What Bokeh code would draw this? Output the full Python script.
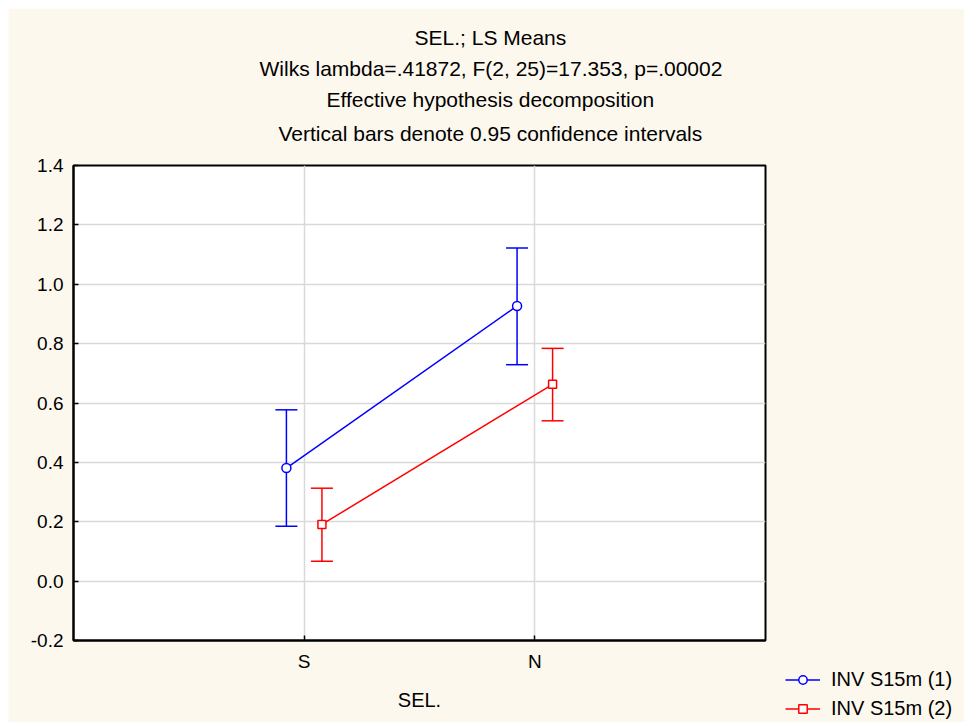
from bokeh.plotting import figure
from bokeh.models import (Range1d, FixedTicker, PrintfTickFormatter, Whisker, TeeHead,
                          ColumnDataSource, Legend, LegendItem, Title)
from bokeh.embed import file_html
from bokeh.resources import INLINE

# ---- data ----
categories = ["S", "N"]
series_names = ["INV S15m (1)", "INV S15m (2)"]
means_1 = [0.381, 0.927]
lower_1 = [0.185, 0.729]
upper_1 = [0.577, 1.122]
means_2 = [0.191, 0.663]
lower_2 = [0.067, 0.540]
upper_2 = [0.313, 0.784]
y_ticks = [-0.2, 0.0, 0.2, 0.4, 0.6, 0.8, 1.0, 1.2, 1.4]
title_lines = [
    "SEL.; LS Means",
    "Wilks lambda=.41872, F(2, 25)=17.353, p=.00002",
    "Effective hypothesis decomposition",
    "Vertical bars denote 0.95 confidence intervals",
]
x_label = "SEL."

FONT = "Liberation Sans"
BG = "#FDF8EE"
TFS = "21px"
# horizontal offsets (px from frame left) so the title lines centre on the whole figure
title_offsets = [341, 186, 253, 205]

p = figure(frame_width=692, frame_height=475, output_backend="svg", toolbar_location=None,
           x_range=Range1d(0, 3), y_range=Range1d(-0.2, 1.4),
           min_border_left=65, min_border_right=199, min_border_top=157,
           min_border_bottom=82, title=title_lines[0])
p.margin = (8, 0, 0, 8)
p.background_fill_color = "white"
p.border_fill_color = BG
p.outline_line_color = "black"
p.outline_line_width = 2


def style_title(t, off, standoff):
    t.align = "left"
    t.offset = off
    t.text_font = FONT
    t.text_font_size = TFS
    t.text_font_style = "normal"
    t.text_color = "black"
    t.standoff = standoff


style_title(p.title, title_offsets[0], 6)
# closest to the frame first; the trailing newline keeps a gap above the frame
t4 = Title(text=title_lines[3] + "\n", text_line_height=0.65)
style_title(t4, title_offsets[3], 12)
p.add_layout(t4, "above")
for k in (2, 1):
    t = Title(text=title_lines[k])
    style_title(t, title_offsets[k], 6)
    p.add_layout(t, "above")

# axes
pos = {c: i + 1 for i, c in enumerate(categories)}
p.xaxis.ticker = FixedTicker(ticks=list(pos.values()))
p.xaxis.major_label_overrides = {v: k for k, v in pos.items()}
p.yaxis.ticker = FixedTicker(ticks=y_ticks)
p.yaxis.formatter = PrintfTickFormatter(format="%.1f")
for ax in (p.xaxis[0], p.yaxis[0]):
    ax.major_tick_in = 5
    ax.major_tick_out = 0
    ax.minor_tick_line_color = None
    ax.axis_line_color = "black"
    ax.axis_line_width = 2
    ax.major_tick_line_color = "black"
    ax.major_tick_line_width = 1.5
    ax.major_label_text_font = FONT
    ax.major_label_text_font_size = "19px"
    ax.major_label_text_color = "black"
p.yaxis.major_label_standoff = 10
p.xaxis.major_label_standoff = 10
p.xaxis.axis_label = x_label
p.xaxis.axis_label_text_font = FONT
p.xaxis.axis_label_text_font_size = "20px"
p.xaxis.axis_label_text_font_style = "normal"
p.xaxis.axis_label_text_color = "black"
p.xaxis.axis_label_standoff = 14

p.grid.grid_line_color = "#d9d9d9"
p.grid.grid_line_width = 1.5

# series
offset = 0.077
specs = [
    (means_1, lower_1, upper_1, -offset, "#0000FF", "circle", 9),
    (means_2, lower_2, upper_2, offset, "#FF0000", "square", 8),
]
items = []
for (m, lo, up, off, col, mk, sz), name in zip(specs, series_names):
    xs = [pos[c] + off for c in categories]
    src = ColumnDataSource(dict(x=xs, y=m, lower=lo, upper=up))
    w = Whisker(source=src, base="x", upper="upper", lower="lower", dimension="height",
                line_color=col, line_width=1.5,
                upper_head=TeeHead(size=22, line_color=col, line_width=1.5),
                lower_head=TeeHead(size=22, line_color=col, line_width=1.5))
    p.add_layout(w)
    ln = p.line("x", "y", source=src, line_color=col, line_width=1.5)
    sc = p.scatter("x", "y", source=src, marker=mk, size=sz, line_color=col,
                   fill_color="white", line_width=1.5)
    items.append(LegendItem(label=name, renderers=[ln, sc]))

legend = Legend(items=items, location=(20, -80), orientation="vertical",
                glyph_width=35, glyph_height=21, label_height=21, label_standoff=11,
                spacing=6, padding=0, margin=0, border_line_color=None,
                background_fill_alpha=0, label_text_font=FONT,
                label_text_font_size="20px", label_text_color="black")
p.add_layout(legend, "right")

open("out.html", "w").write(file_html(p, INLINE))
